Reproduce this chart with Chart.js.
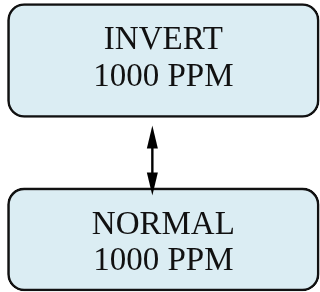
<!DOCTYPE html>
<html>
<head>
<meta charset="utf-8">
<script src="https://cdn.jsdelivr.net/npm/chart.js@4/dist/chart.umd.min.js"></script>
<style>
  html, body { margin: 0; padding: 0; background: #ffffff; }
  #wrap { width: 320px; height: 292px; }
</style>
</head>
<body>
<div id="wrap"><canvas id="diagram"></canvas></div>
<script>
// boxes, top to bottom
const nodes = ['INVERT', 'NORMAL'];
const nodeLines = [['INVERT', '1000 PPM'], ['NORMAL', '1000 PPM']];
// each box spans the whole value axis
const spanTop = [[0, 1], null];
const spanBottom = [null, [0, 1]];
// two-way link between box 0 and box 1
const links = [[0, 1]];

const boxFill = '#dbedf3';
const boxLine = '#111111';

function arrowHead(ctx, x, tipY, dir) {
    // dir = -1 points up, 1 points down
    ctx.beginPath();
    ctx.moveTo(x, tipY);
    ctx.lineTo(x - 5.5, tipY - dir * 23);
    ctx.lineTo(x + 5.5, tipY - dir * 23);
    ctx.closePath();
    ctx.fill();
}

const boxText = {
    id: 'boxText',
    afterDatasetsDraw(chart) {
        const ctx = chart.ctx;
        const bars = nodes.map((n, i) => {
            for (let d = 0; d < chart.data.datasets.length; d++) {
                const el = chart.getDatasetMeta(d).data[i];
                if (chart.data.datasets[d].data[i]) return el;
            }
            return null;
        });

        ctx.save();
        ctx.fillStyle = '#111111';
        ctx.font = '33px "Liberation Serif", "Times New Roman", serif';
        ctx.textAlign = 'center';
        ctx.textBaseline = 'alphabetic';
        bars.forEach((bar, i) => {
            const cx = (bar.x + bar.base) / 2;
            const top = bar.y - bar.height / 2;
            nodeLines[i].forEach((line, k) => {
                ctx.fillText(line, cx, top + 45.7 + k * 36.3);
            });
        });

        // links
        ctx.strokeStyle = '#000000';
        ctx.fillStyle = '#000000';
        ctx.lineWidth = 2.4;
        links.forEach(([a, b]) => {
            const ba = bars[a], bb = bars[b];
            const x = (ba.x + ba.base) / 2 - 11;
            const y1 = ba.y + ba.height / 2 + 8;
            const y2 = bb.y - bb.height / 2 + 7.5;
            ctx.beginPath();
            ctx.moveTo(x, y1 + 15);
            ctx.lineTo(x, y2 - 15);
            ctx.stroke();
            arrowHead(ctx, x, y1, -1);
            arrowHead(ctx, x, y2, 1);
        });
        ctx.restore();
    }
};

new Chart(document.getElementById('diagram'), {
    type: 'bar',
    data: {
        labels: nodes,
        datasets: [
            {
                data: spanTop,
                backgroundColor: boxFill,
                borderColor: boxLine,
                borderWidth: 2.6,
                borderRadius: 17,
                borderSkipped: false,
                barThickness: 114,
                clip: false
            },
            {
                data: spanBottom,
                backgroundColor: boxFill,
                borderColor: boxLine,
                borderWidth: 2.6,
                borderRadius: 17,
                borderSkipped: false,
                barThickness: 103,
                clip: false
            }
        ]
    },
    options: {
        indexAxis: 'y',
        responsive: true,
        maintainAspectRatio: false,
        animation: false,
        events: [],
        layout: { padding: { left: 7.5, right: 0.8, top: 60.5, bottom: 52.6 } },
        datasets: { bar: { grouped: false } },
        scales: {
            x: { type: 'linear', min: 0, max: 1, display: false },
            y: { type: 'category', offset: false, display: false }
        },
        plugins: {
            legend: { display: false },
            tooltip: { enabled: false },
            title: { display: false }
        }
    },
    plugins: [boxText]
});
</script>
</body>
</html>
